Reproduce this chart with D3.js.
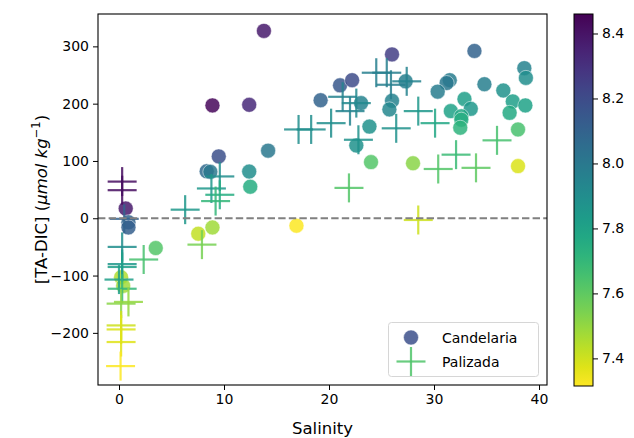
<!DOCTYPE html>
<html>
<head>
<meta charset="utf-8">
<script src="https://cdn.jsdelivr.net/npm/d3@7"></script>
<style>
  body { margin: 0; background: #fff; }
  svg { font-family: "DejaVu Sans", sans-serif; }
</style>
</head>
<body>
<svg id="chart" width="634" height="438"></svg>
<script>
// Candelaria (circles): salinity, TA-DIC, pH
const candSal = [13.8, 8.9, 12.4, 19.2, 9.5, 8.35, 8.7, 14.2, 12.4, 12.5, 0.64, 0.9, 0.9, 0.2, 0.4, 3.5, 7.55, 8.9, 16.9,
  21.05, 22.2, 23.05, 26.0, 25.75, 23.85, 22.6, 24.0, 28.0, 27.3, 26.0, 33.85, 31.5, 31.2, 30.35, 34.8, 38.6, 38.75,
  36.6, 32.9, 33.5, 31.6, 32.6, 32.6, 32.5, 37.5, 38.7, 37.2, 38.0, 38.0];
const candVal = [327, 197, 198, 206, 108, 82, 81, 118, 81.5, 55, 17, -7, -16, -103, -118, -52, -27, -16, -13,
  232, 241, 201, 205, 190, 160, 127, 98, 96, 239, 286, 292, 241, 236, 221, 234, 262, 245,
  223, 208, 191, 187, 178, 172, 158, 204, 197, 184, 155, 91];
const candPh = [8.38, 8.44, 8.33, 8.1, 8.18, 8.07, 8.0, 8.0, 7.9, 7.75, 8.38, 8.1, 8.12, 7.45, 7.48, 7.62, 7.42, 7.48, 7.32,
  8.15, 8.2, 7.95, 7.95, 7.93, 7.88, 7.88, 7.62, 7.52, 7.97, 8.25, 8.1, 7.98, 8.0, 7.98, 7.97, 7.95, 7.9,
  7.88, 7.82, 7.85, 7.8, 7.78, 7.75, 7.72, 7.82, 7.8, 7.77, 7.65, 7.38];

// Palizada (crosses)
const paliSal = [0.3, 0.3, 0.5, 0.3, 0.3, 0.3, 2.35, 0.0, 0.3, 0.2, 0.9, 0.2, 0.2, 0.2, 0.15, 7.9, 6.3, 9.6, 8.8, 9.6, 9.2,
  17.1, 18.3, 20.2, 21.3, 22.0, 22.6, 22.8, 24.5, 25.5, 25.9, 27.4, 26.4, 28.5, 30.1, 21.9, 30.4, 32.1, 34.0, 36.0, 28.5];
const paliVal = [64, 49, -1, -50, -80, -85, -72, -107, -123, -149, -146, -187, -194, -216, -258, -46, 15, 73, 52, 41, 30,
  155, 155, 166, 212, 187, 201, 137, 254, 254, 233, 239, 157, 187, 166, 53, 86, 111, 88, 136, -3];
const paliPh = [8.42, 8.42, 8.1, 7.9, 7.85, 7.82, 7.65, 7.82, 7.7, 7.52, 7.5, 7.4, 7.38, 7.37, 7.32, 7.55, 7.85, 7.9, 7.85, 7.75, 7.7,
  7.9, 7.9, 7.9, 7.95, 7.95, 7.92, 7.88, 7.97, 7.97, 7.97, 7.95, 7.88, 7.85, 7.78, 7.62, 7.62, 7.68, 7.6, 7.65, 7.4];

const xTicks = [0, 10, 20, 30, 40];
const yTicks = [-200, -100, 0, 100, 200, 300];
const cTicks = [7.4, 7.6, 7.8, 8.0, 8.2, 8.4];
const seriesNames = ["Candelaria", "Palizada"];

const svg = d3.select("#chart");
const L = 98, T = 14, R = 547, B = 385;

const x = d3.scaleLinear().domain([-2.0, 40.76]).range([L, R]);
const y = d3.scaleLinear().domain([-291, 356.5]).range([B, T]);
const phMin = 7.315, phMax = 8.46;
const color = v => d3.interpolateViridis(1 - (v - phMin) / (phMax - phMin));

// points
const cand = candSal.map((s, i) => ({ s, v: candVal[i], p: candPh[i] }));
const pali = paliSal.map((s, i) => ({ s, v: paliVal[i], p: paliPh[i] }));

const plot = svg.append("g");
plot.selectAll("circle.cand")
  .data(cand)
  .enter()
  .append("circle")
  .attr("cx", d => x(d.s))
  .attr("cy", d => y(d.v))
  .attr("r", 7.5)
  .attr("fill", d => color(d.p))
  .attr("fill-opacity", 0.85)
  .attr("stroke", "#fff")
  .attr("stroke-opacity", 0.5)
  .attr("stroke-width", 1);

const arm = 14.5;
const crosses = plot.selectAll("g.pali")
  .data(pali)
  .enter()
  .append("g")
  .attr("transform", d => `translate(${x(d.s)},${y(d.v)})`)
  .attr("stroke", d => color(d.p))
  .attr("stroke-opacity", 0.85)
  .attr("stroke-width", 2.2);
crosses.append("line").attr("x1", -arm).attr("x2", arm);
crosses.append("line").attr("y1", -arm).attr("y2", arm);

// zero line
svg.append("line")
  .attr("x1", L).attr("x2", R)
  .attr("y1", y(0)).attr("y2", y(0))
  .attr("stroke", "#808080")
  .attr("stroke-width", 2)
  .attr("stroke-dasharray", "7.4,3.2");

// axes
const xAxis = svg.append("g")
  .attr("transform", `translate(0,${B})`)
  .call(d3.axisBottom(x).tickValues(xTicks).tickSize(5).tickPadding(4).tickFormat(d3.format("d")));
const yAxis = svg.append("g")
  .attr("transform", `translate(${L},0)`)
  .call(d3.axisLeft(y).tickValues(yTicks).tickSize(5).tickPadding(4)
    .tickFormat(d => d < 0 ? "\u2212" + Math.abs(d) : d));
[xAxis, yAxis].forEach(a => {
  a.select(".domain").remove();
  a.selectAll("text").attr("font-size", 14).attr("fill", "#000").attr("font-family", "DejaVu Sans");
  a.selectAll("line").attr("stroke", "#000").attr("stroke-width", 1);
});

svg.append("rect")
  .attr("x", L).attr("y", T).attr("width", R - L).attr("height", B - T)
  .attr("fill", "none").attr("stroke", "#000").attr("stroke-width", 1.1);

// axis labels
svg.append("text")
  .attr("x", (L + R) / 2).attr("y", 434)
  .attr("text-anchor", "middle").attr("font-size", 16.5)
  .text("Salinity");

const yl = svg.append("text")
  .attr("transform", `translate(47,${(T + B) / 2}) rotate(-90)`)
  .attr("text-anchor", "middle").attr("font-size", 16.5);
yl.append("tspan").text("[TA-DIC] (");
yl.append("tspan").attr("font-style", "italic").text("\u03bcmol kg");
yl.append("tspan").attr("font-size", 11.5).attr("dy", -7).text("\u22121");
yl.append("tspan").attr("dy", 7).text(")");

// legend
const lg = svg.append("g");
lg.append("rect")
  .attr("x", 388.5).attr("y", 322.5).attr("width", 150).attr("height", 54)
  .attr("rx", 3).attr("fill", "#fff").attr("fill-opacity", 0.8)
  .attr("stroke", "#d6d6d6");
lg.append("circle")
  .attr("cx", 411).attr("cy", 337.5).attr("r", 7.5)
  .attr("fill", color(8.18)).attr("fill-opacity", 0.85)
  .attr("stroke", "#fff").attr("stroke-opacity", 0.5);
lg.append("line").attr("x1", 411 - arm).attr("x2", 411 + arm).attr("y1", 361.5).attr("y2", 361.5)
  .attr("stroke", color(7.63)).attr("stroke-width", 2.2).attr("stroke-opacity", 0.85);
lg.append("line").attr("x1", 411).attr("x2", 411).attr("y1", 361.5 - arm).attr("y2", 361.5 + arm)
  .attr("stroke", color(7.63)).attr("stroke-width", 2.2).attr("stroke-opacity", 0.85);
lg.selectAll("text.leg")
  .data(seriesNames)
  .enter()
  .append("text")
  .attr("x", 442).attr("y", (d, i) => 342.5 + i * 24)
  .attr("font-size", 14)
  .text(d => d);

// colorbar
const cbX = 574, cbW = 19;
const cy = d3.scaleLinear().domain([phMin, phMax]).range([B + 1, T]);
const grad = svg.append("defs").append("linearGradient")
  .attr("id", "cbar").attr("x1", 0).attr("x2", 0).attr("y1", 1).attr("y2", 0);
d3.range(0, 1.0001, 0.05).forEach(t => {
  grad.append("stop").attr("offset", t).attr("stop-color", color(phMin + t * (phMax - phMin)));
});
svg.append("rect")
  .attr("x", cbX).attr("y", T).attr("width", cbW).attr("height", B + 1 - T)
  .attr("fill", "url(#cbar)").attr("stroke", "#000").attr("stroke-width", 1);
const cAxis = svg.append("g")
  .attr("transform", `translate(${cbX + cbW},0)`)
  .call(d3.axisRight(cy).tickValues(cTicks).tickSize(5).tickPadding(4).tickFormat(d3.format(".1f")));
cAxis.select(".domain").remove();
cAxis.selectAll("text").attr("font-size", 14).attr("fill", "#000").attr("font-family", "DejaVu Sans");
cAxis.selectAll("line").attr("stroke", "#000");
</script>
</body>
</html>
